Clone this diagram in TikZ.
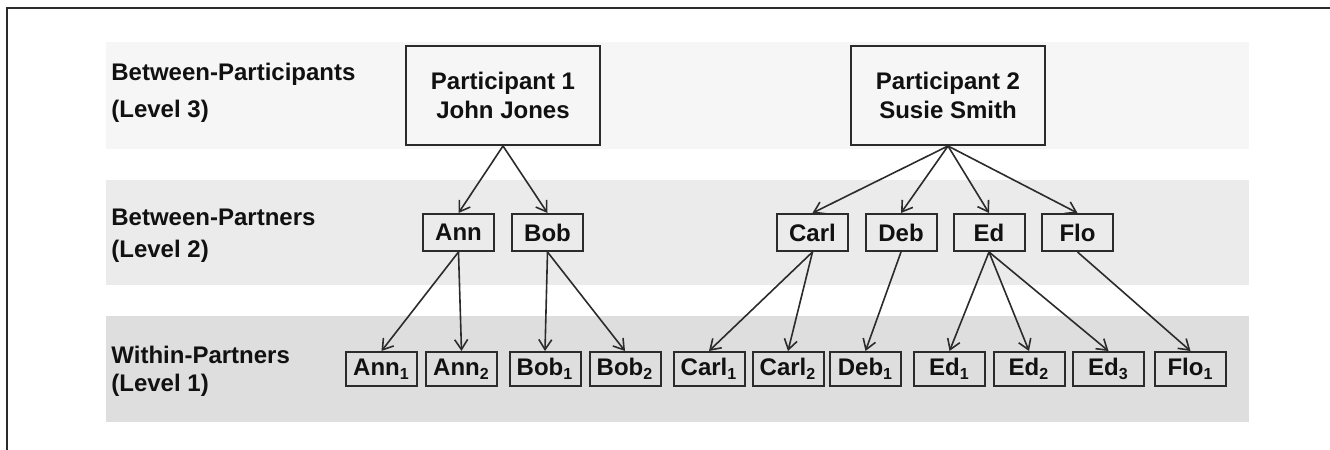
\documentclass[tikz,border=0pt]{standalone}
\usepackage{fontspec}
\setmainfont{Liberation Sans}
\usetikzlibrary{arrows.meta}

\definecolor{bandthree}{HTML}{F6F6F6}
\definecolor{bandtwo}{HTML}{EBEBEB}
\definecolor{bandone}{HTML}{DEDEDE}
\definecolor{boxgray}{HTML}{2B2B2B}
\definecolor{inkgray}{HTML}{111111}

\begin{document}
\begin{tikzpicture}[x=0.5pt,y=-0.5pt,
    every node/.style={text=inkgray},
    levellabel/.style={anchor=base west,align=left,inner sep=0pt,
        font=\fontsize{12pt}{#1}\selectfont\bfseries},
    person/.style={draw=boxgray,line width=1pt,minimum width=97pt,minimum height=49.5pt,
        inner sep=0pt,align=center,font=\fontsize{12pt}{14.5pt}\selectfont\bfseries},
    partner/.style={draw=boxgray,line width=1pt,minimum width=35.5pt,minimum height=18.5pt,
        inner sep=0pt,font=\fontsize{12pt}{14pt}\selectfont\bfseries},
    leaf/.style={partner,minimum height=17pt},
    edge/.style={draw=boxgray,line width=0.8pt,-{Straight Barb[length=5pt,width=6.5pt]}}]

\useasboundingbox (0,0) rectangle (1330,450);

% frame
\draw[boxgray,line width=1pt] (7,450) -- (7,8) -- (1330,8);

% level bands
\fill[bandthree] (106,42) rectangle (1249,149);
\fill[bandtwo] (106,180) rectangle (1249,285);
\fill[bandone] (106,316) rectangle (1249,422);

% level labels (placed at the baseline of their last line)
\node[levellabel=18.5pt] (lvl3) at (111,117) {Between-Participants\\(Level 3)};
\node[levellabel=16pt] (lvl2) at (111,257) {Between-Partners\\(Level 2)};
\node[levellabel=14pt] (lvl1) at (111,391) {Within-Partners\\(Level 1)};

% level 3
\node[person] (P1) at (503,95.5) {Participant 1\\John Jones};
\node[person] (P2) at (948,95.5) {Participant 2\\Susie Smith};

% level 2
\foreach \who/\x in {Ann/458.5,Bob/547.5,Carl/812.5,Deb/901,Ed/989,Flo/1077.5}
{
    \node[partner] (\who) at (\x,232.5) {\who};
}

% level 1
\foreach \who/\k/\x in {Ann/1/381.5,Ann/2/461.5,Bob/1/545,Bob/2/625,Carl/1/709,Carl/2/788,
    Deb/1/865.5,Ed/1/949.5,Ed/2/1029,Ed/3/1108.5,Flo/1/1190.5}
{
    \node[leaf] (\who\k) at (\x,369) {\who\textsubscript{\k}};
}

% connectors
\foreach \a/\b in {P1/Ann,P1/Bob,P2/Carl,P2/Deb,P2/Ed,P2/Flo,
    Ann/Ann1,Ann/Ann2,Bob/Bob1,Bob/Bob2,Carl/Carl1,Carl/Carl2,
    Deb/Deb1,Ed/Ed1,Ed/Ed2,Ed/Ed3,Flo/Flo1}
{
    \draw[edge] (\a.south) -- (\b.north);
}

\end{tikzpicture}
\end{document}
